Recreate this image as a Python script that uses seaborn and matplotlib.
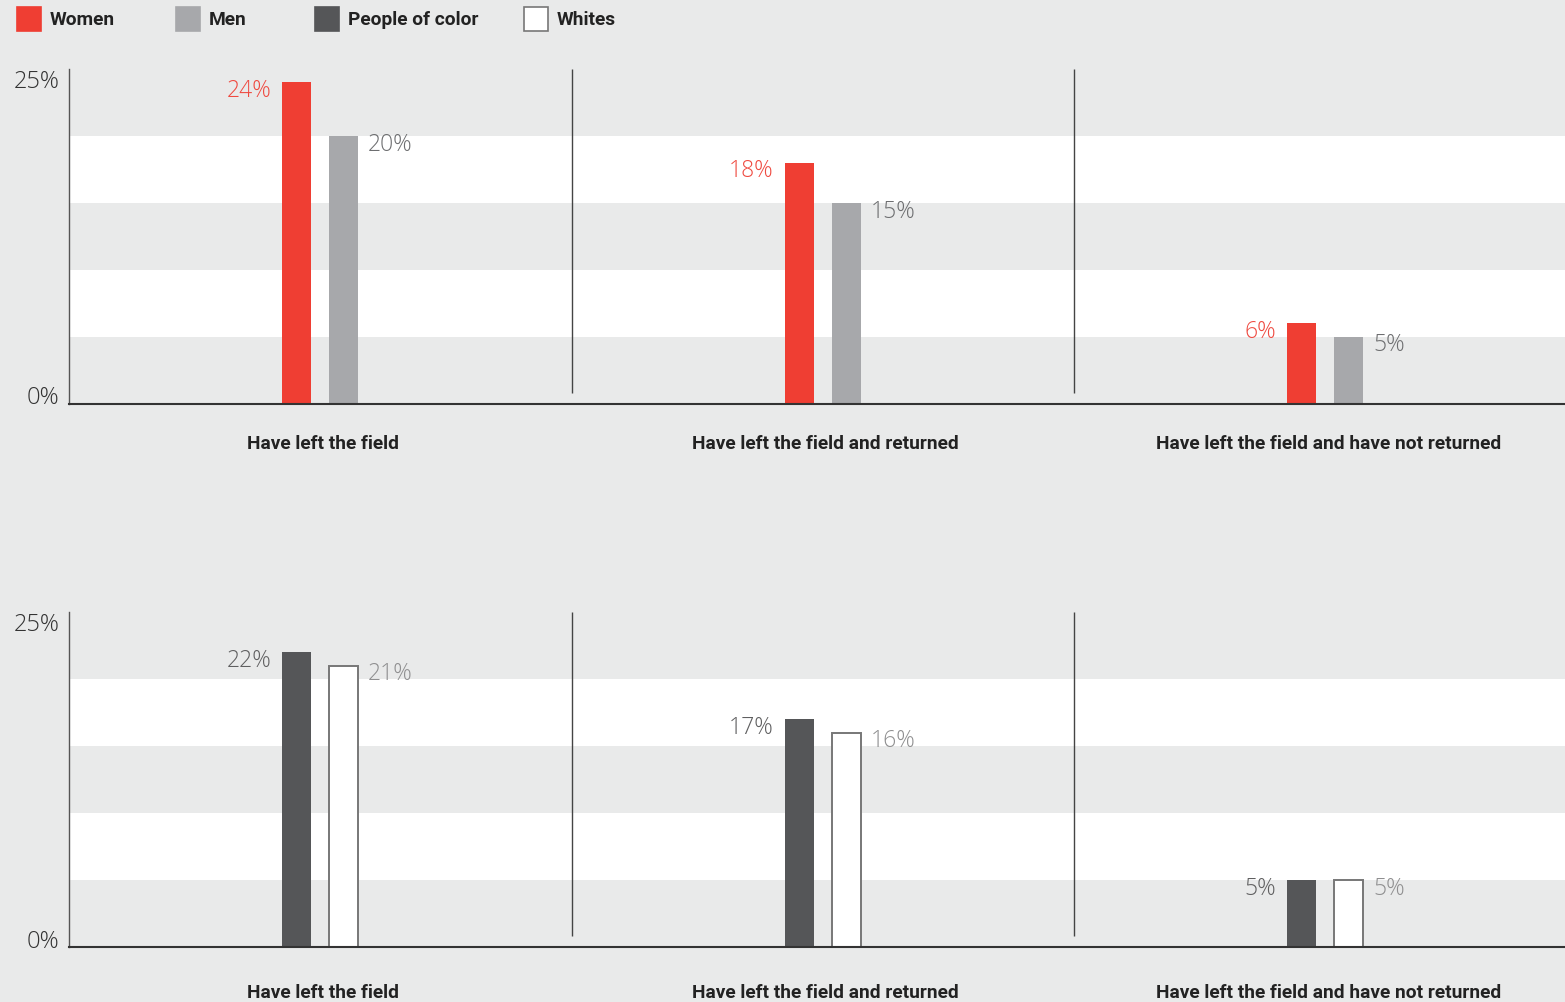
import numpy as np
import pandas as pd
import seaborn as sns
import matplotlib.pyplot as plt
from matplotlib.patches import Rectangle
from matplotlib.transforms import ScaledTranslation

categories = ["Have left the field", "Have left the field and returned",
              "Have left the field and have not returned"]
women = [24, 18, 6]
men = [20, 15, 5]
people_of_color = [22, 17, 5]
whites = [21, 16, 5]
legend_labels = ["Women", "Men", "People of color", "Whites"]

BG = "#e9eaea"
RED = "#ef3e33"
GRAY = "#a7a8ab"
DARK = "#555658"
WHITE = "#ffffff"

sns.set_theme(style="white")
plt.rcParams["font.family"] = ["Roboto", "DejaVu Sans"]
NUMFONT = ["Open Sans", "DejaVu Sans"]

fig = plt.figure(figsize=(15.65, 10.03), dpi=100)
fig.patch.set_facecolor(BG)

W, H = 1565, 1003
UNIT = 502.5
def ax_rect(top_px, bottom_px):
    left = 69 / W
    width = 1496 / W
    return [left, (H - bottom_px) / H, width, (bottom_px - top_px) / H]

panels = [
    (ax_rect(70, 404.5), women, men, ["Women", "Men"], [RED, GRAY],
     ["#ef4a40", "#6d6e70"], 22),
    (ax_rect(613, 948), people_of_color, whites, ["People of color", "Whites"],
     [DARK, WHITE], ["#5f5f60", "#8f8f90"], 26),
]

for rect, a, b, names, cols, lblcols, xpad in panels:
    ax = fig.add_axes(rect)
    ax.set_facecolor(BG)
    df = pd.DataFrame({
        "category": categories * 2,
        "value": a + b,
        "group": [names[0]] * len(a) + [names[1]] * len(b),
    })
    for lo, hi in [(5, 10), (15, 20)]:
        ax.axhspan(lo, hi, color="white", zorder=0, lw=0)
    sns.barplot(data=df, x="category", y="value", hue="group",
                order=categories, hue_order=names,
                palette=dict(zip(names, cols)), saturation=1,
                width=0.1873, gap=0.382, legend=False, ax=ax, zorder=2,
                errorbar=None, linewidth=0)
    if cols[1] == WHITE:
        for p in ax.containers[1]:
            p.set_edgecolor("#777777")
            p.set_linewidth(1.4)
    # value labels
    for p in ax.containers[0]:
        h = p.get_height()
        ax.annotate(f"{h:.0f}%", xy=(p.get_x(), h), xytext=(-8, 3),
                    textcoords="offset points", ha="right", va="top",
                    fontsize=16.5, color=lblcols[0], fontweight="light",
                    family=NUMFONT)
    for p in ax.containers[1]:
        h = p.get_height()
        ax.annotate(f"{h:.0f}%", xy=(p.get_x() + p.get_width(), h),
                    xytext=(7, 3), textcoords="offset points", ha="left",
                    va="top", fontsize=16.5, color=lblcols[1],
                    fontweight="light", family=NUMFONT)
    ax.set_xlim(-0.5, -0.5 + 1496 / UNIT)
    ax.set_ylim(0, 25)
    ax.vlines([0.5, 1.5], 0.8, 25, color="#444444", lw=1, zorder=3)
    for s in ["top", "right"]:
        ax.spines[s].set_visible(False)
    ax.spines["left"].set_color("#555555")
    ax.spines["left"].set_linewidth(1)
    ax.spines["bottom"].set_color("#333333")
    ax.spines["bottom"].set_linewidth(1.5)
    ax.set_xlabel("")
    ax.set_ylabel("")
    ax.set_yticks([0, 25])
    ax.set_yticklabels(["0%", "25%"], fontsize=17, color="#333333",
                       fontweight="light", family=NUMFONT)
    ylabs = ax.get_yticklabels()
    ylabs[0].set_va("baseline")
    ylabs[1].set_va("top")
    ax.tick_params(axis="y", length=0, pad=7)
    ax.set_xticks(range(len(categories)))
    ax.set_xticklabels(categories, fontsize=13.8, fontweight="bold",
                       color="#222222")
    ax.tick_params(axis="x", length=0, pad=xpad)
    shift = ScaledTranslation(3 / 100, 0, fig.dpi_scale_trans)
    for lbl in ax.get_xticklabels():
        lbl.set_transform(lbl.get_transform() + shift)

# legend
leg_x = [17, 176, 315, 524]
leg_cols = [RED, GRAY, DARK, WHITE]
for x, c, lab in zip(leg_x, leg_cols, legend_labels):
    ec = "#777777" if c == WHITE else c
    fig.patches.append(Rectangle((x / W, (H - 32) / H), 24 / W, 24 / H,
                                 transform=fig.transFigure, facecolor=c,
                                 edgecolor=ec, lw=1.2))
    fig.text((x + 33) / W, (H - 20) / H, lab, fontsize=13.8, fontweight="bold",
             color="#222222", va="center", ha="left")

fig.savefig("out.png", dpi=100, facecolor=BG)
